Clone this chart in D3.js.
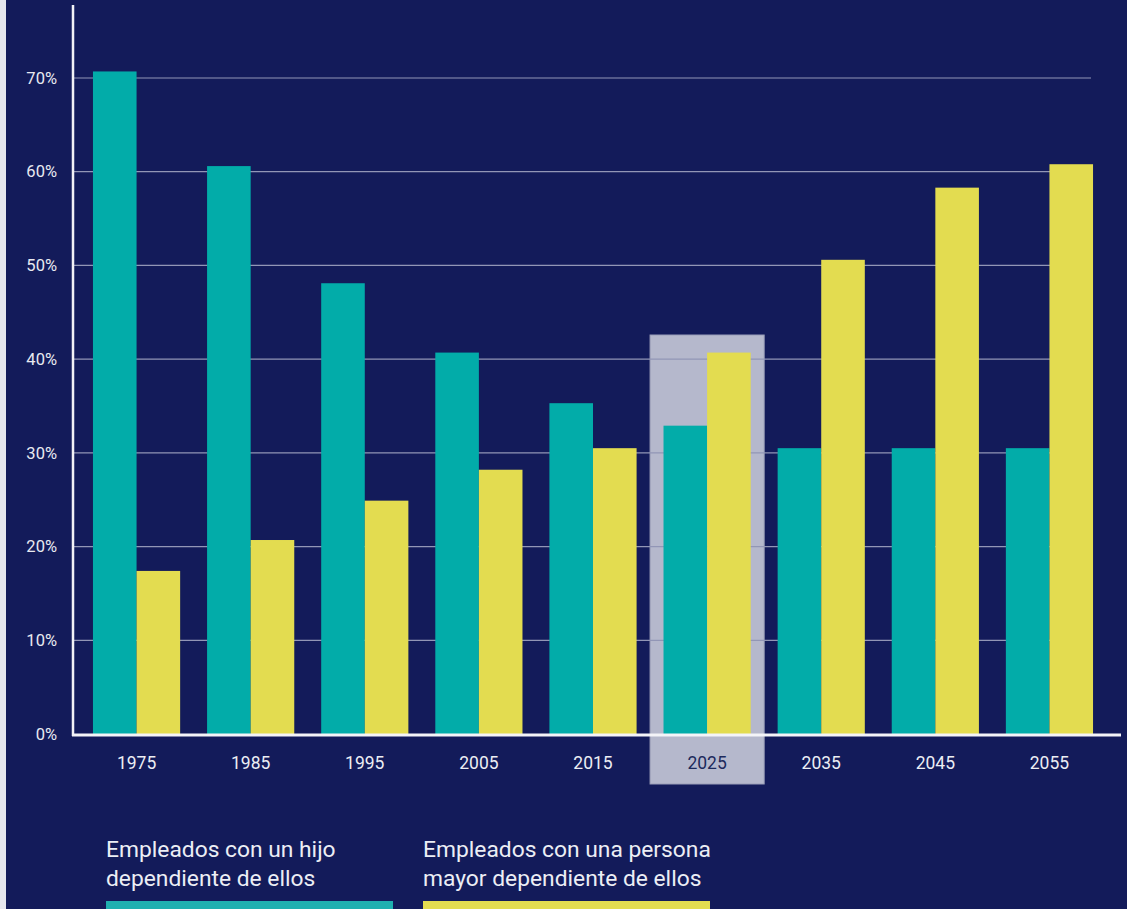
<!DOCTYPE html>
<html>
<head>
<meta charset="utf-8">
<script src="https://cdn.jsdelivr.net/npm/d3@7"></script>
<style>
  html, body { margin: 0; padding: 0; background: #131b5a; overflow: hidden; }
  svg { display: block; }
  text { font-family: Roboto, "Noto Sans", sans-serif; }
</style>
</head>
<body>
<div id="chart"></div>
<script>
/* valores */
const years = ['1975', '1985', '1995', '2005', '2015', '2025', '2035', '2045', '2055'];
const hijo = [70.7, 60.6, 48.1, 40.7, 35.3, 32.9, 30.5, 30.5, 30.5];
const mayor = [17.4, 20.7, 24.9, 28.2, 30.5, 40.7, 50.6, 58.3, 60.8];
const yTicks = [0, 10, 20, 30, 40, 50, 60, 70];
const highlightYear = '2025';
const legendLabels = [
    ['Empleados con un hijo', 'dependiente de ellos'],
    ['Empleados con una persona', 'mayor dependiente de ellos']
];

const width = 1127, height = 909;
const colors = { hijo: '#02aca9', mayor: '#e3dc50', bg: '#131b5a' };

const svg = d3.select('#chart').append('svg')
    .attr('width', width)
    .attr('height', height);

svg.append('rect').attr('width', width).attr('height', height).attr('fill', colors.bg);
// franja clara del borde izquierdo
svg.append('rect').attr('x', 0).attr('y', 0).attr('width', 6).attr('height', height).attr('fill', '#e6e7ee');

const x0 = d3.scaleBand().domain(years).range([79.5, 1106.5]).paddingInner(0.236).paddingOuter(0.118);
const x1 = d3.scaleBand().domain(['hijo', 'mayor']).range([0, x0.bandwidth()]);
const y = d3.scaleLinear().domain([0, 70]).range([734, 78]);

// resaltado 2025
const step = x0.step();
svg.append('rect')
    .attr('x', x0(highlightYear) + x0.bandwidth() / 2 - step / 2)
    .attr('y', 335)
    .attr('width', step)
    .attr('height', 449)
    .attr('fill', '#b5b8cc')
    .attr('stroke', '#9a9eb8')
    .attr('stroke-width', 1);

// líneas de cuadrícula
svg.append('g')
    .selectAll('line')
    .data(yTicks.slice(1))
    .enter().append('line')
    .attr('x1', 72).attr('x2', 1091)
    .attr('y1', d => y(d)).attr('y2', d => y(d))
    .attr('stroke', '#9296b6')
    .attr('stroke-width', 1.2);

// barras
const groups = svg.append('g').selectAll('g')
    .data(years.map((yr, i) => ({ yr, hijo: hijo[i], mayor: mayor[i] })))
    .enter().append('g')
    .attr('transform', d => `translate(${x0(d.yr)},0)`);

groups.selectAll('rect')
    .data(d => ['hijo', 'mayor'].map(k => ({ k, v: d[k] })))
    .enter().append('rect')
    .attr('x', d => x1(d.k))
    .attr('y', d => y(d.v))
    .attr('width', x1.bandwidth())
    .attr('height', d => y(0) - y(d.v))
    .attr('fill', d => colors[d.k]);

// ejes
const yAxis = svg.append('g')
    .attr('transform', 'translate(72,0)')
    .call(d3.axisLeft(y).tickValues(yTicks).tickSize(0).tickPadding(15).tickFormat(d => d + '%'));
yAxis.select('.domain').remove();
yAxis.selectAll('text')
    .attr('fill', '#e8e9f0')
    .attr('font-size', 16.5);

svg.append('line')
    .attr('x1', 73).attr('x2', 73).attr('y1', 5).attr('y2', 736)
    .attr('stroke', '#f2f2f6').attr('stroke-width', 2.5);

const xAxis = svg.append('g')
    .attr('transform', 'translate(0,734)')
    .call(d3.axisBottom(x0).tickSize(0).tickPadding(23));
xAxis.select('.domain').remove();
xAxis.selectAll('text')
    .attr('fill', d => d === highlightYear ? '#1d2a5c' : '#eceef4')
    .attr('font-size', 17.5);

svg.append('line')
    .attr('x1', 72).attr('x2', 1121).attr('y1', 735).attr('y2', 735)
    .attr('stroke', '#f4f4f8').attr('stroke-width', 3);

// leyenda
const legendX = [106, 423];
const legendColors = ['#1fb0b0', colors.mayor];
legendLabels.forEach((lines, i) => {
    const t = svg.append('text')
        .attr('x', legendX[i])
        .attr('y', 857)
        .attr('fill', '#eceef5')
        .attr('font-size', 22.8);
    lines.forEach((ln, j) => {
        t.append('tspan').attr('x', legendX[i]).attr('dy', j === 0 ? 0 : 29).text(ln);
    });
    svg.append('rect')
        .attr('x', legendX[i]).attr('y', 901)
        .attr('width', 287).attr('height', 12)
        .attr('fill', legendColors[i]);
});
</script>
</body>
</html>
